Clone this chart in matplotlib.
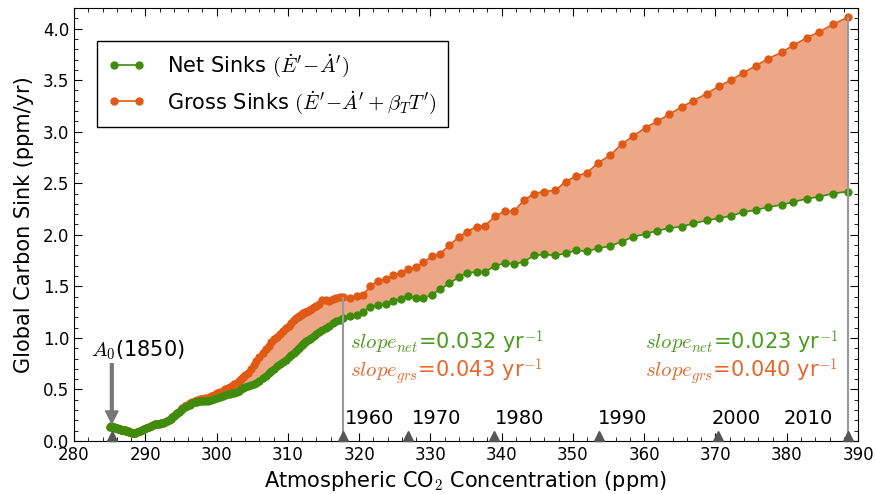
import numpy as np
import matplotlib
matplotlib.use('Agg')
import matplotlib.pyplot as plt
from matplotlib.ticker import MultipleLocator

plt.rcParams['mathtext.fontset'] = 'cm'
plt.rcParams['font.family'] = 'DejaVu Sans'

# CO2 concentration (ppm), one value per year 1850 -> 2010
co2 = [285.0, 285.15, 285.3, 285.45, 285.6, 285.75, 285.9, 286.05, 286.2, 286.35,
       286.5, 286.65, 286.8, 286.95, 287.1, 287.25, 287.4, 287.55, 287.7, 287.9,
       288.1, 288.35, 288.6, 288.9, 289.2, 289.5, 289.8, 290.15, 290.5, 290.8,
       291.1, 291.35, 291.6, 291.9, 292.2, 292.45, 292.7, 293.0, 293.3, 293.55,
       293.8, 294.05, 294.3, 294.5, 294.7, 294.95, 295.2, 295.55, 295.9, 296.25,
       296.6, 296.95, 297.3, 297.65, 298.0, 298.4, 298.8, 299.25, 299.7, 300.1,
       300.5, 300.85, 301.2, 301.55, 301.9, 302.2, 302.5, 302.8, 303.1, 303.4,
       303.7, 304.05, 304.4, 304.8, 305.2, 305.6, 306.0, 306.45, 306.9, 307.3,
       307.7, 308.1, 308.5, 308.9, 309.3, 309.7, 310.1, 310.45, 310.8, 311.1,
       311.4, 311.6, 311.8, 311.95, 312.1, 312.25, 312.4, 312.6, 312.8, 313.05,
       313.3, 313.65, 314.0, 314.4, 314.8, 315.3, 315.8, 316.3, 316.8, 317.3,
       317.79, 318.73, 319.67, 320.59, 321.53, 322.70, 323.78, 324.80, 325.84, 326.91,
       327.94, 329.01, 330.19, 331.35, 332.66, 334.02, 335.10, 336.50, 337.67, 339.07,
       340.47, 341.74, 343.14, 344.54, 345.95, 347.49, 348.96, 350.44, 351.94, 353.57,
       355.20, 356.85, 358.48, 360.19, 361.80, 363.53, 365.27, 366.89, 368.77, 370.50,
       372.14, 373.91, 375.65, 377.42, 379.30, 380.93, 382.80, 384.57, 386.45, 388.56]

# net sinks (ppm/yr)
net = [0.14, 0.142, 0.138, 0.136, 0.133, 0.13, 0.127, 0.124, 0.12, 0.117,
       0.113, 0.11, 0.107, 0.104, 0.102, 0.099, 0.096, 0.093, 0.09, 0.086,
       0.082, 0.08, 0.082, 0.088, 0.097, 0.106, 0.117, 0.128, 0.138, 0.147,
       0.153, 0.16, 0.165, 0.168, 0.171, 0.175, 0.181, 0.192, 0.207, 0.218,
       0.228, 0.243, 0.258, 0.27, 0.281, 0.296, 0.312, 0.327, 0.341, 0.353,
       0.364, 0.374, 0.381, 0.384, 0.386, 0.387, 0.39, 0.398, 0.408, 0.418,
       0.429, 0.437, 0.446, 0.452, 0.459, 0.464, 0.47, 0.48, 0.489, 0.5,
       0.511, 0.52, 0.531, 0.54, 0.551, 0.567, 0.584, 0.607, 0.631, 0.655,
       0.68, 0.702, 0.726, 0.747, 0.77, 0.79, 0.811, 0.831, 0.85, 0.871,
       0.889, 0.905, 0.92, 0.93, 0.941, 0.95, 0.96, 0.97, 0.981, 0.99,
       1.0, 1.021, 1.04, 1.06, 1.08, 1.1, 1.12, 1.14, 1.16, 1.175,
       1.19, 1.21, 1.22, 1.255, 1.30, 1.32, 1.33, 1.36, 1.376, 1.41,
       1.385, 1.385, 1.42, 1.47, 1.53, 1.59, 1.63, 1.64, 1.64, 1.70,
       1.725, 1.715, 1.74, 1.80, 1.81, 1.80, 1.82, 1.85, 1.84, 1.87,
       1.89, 1.935, 1.98, 2.01, 2.04, 2.065, 2.08, 2.11, 2.14, 2.16,
       2.185, 2.22, 2.24, 2.27, 2.29, 2.32, 2.35, 2.37, 2.40, 2.42]

# gross sinks (ppm/yr)
gross = [0.14, 0.142, 0.138, 0.136, 0.133, 0.13, 0.127, 0.124, 0.12, 0.117,
         0.113, 0.11, 0.107, 0.104, 0.102, 0.099, 0.096, 0.093, 0.09, 0.086,
         0.082, 0.08, 0.082, 0.088, 0.097, 0.106, 0.117, 0.128, 0.138, 0.147,
         0.153, 0.16, 0.165, 0.168, 0.171, 0.175, 0.181, 0.192, 0.207, 0.218,
         0.228, 0.243, 0.258, 0.27, 0.281, 0.3, 0.318, 0.336, 0.352, 0.364,
         0.376, 0.389, 0.401, 0.407, 0.411, 0.415, 0.421, 0.434, 0.449, 0.461,
         0.472, 0.486, 0.502, 0.511, 0.522, 0.536, 0.551, 0.565, 0.581, 0.6,
         0.62, 0.638, 0.66, 0.695, 0.74, 0.772, 0.81, 0.85, 0.89, 0.925,
         0.96, 0.985, 1.01, 1.04, 1.07, 1.095, 1.12, 1.145, 1.17, 1.19,
         1.2, 1.21, 1.22, 1.232, 1.24, 1.245, 1.25, 1.256, 1.26, 1.27,
         1.28, 1.295, 1.31, 1.325, 1.37, 1.372, 1.36, 1.375, 1.39, 1.395,
         1.40, 1.385, 1.41, 1.42, 1.50, 1.556, 1.573, 1.61, 1.634, 1.67,
         1.683, 1.735, 1.79, 1.816, 1.90, 1.98, 2.03, 2.08, 2.09, 2.18,
         2.23, 2.23, 2.335, 2.40, 2.42, 2.43, 2.515, 2.57, 2.60, 2.70,
         2.77, 2.88, 2.96, 3.04, 3.10, 3.17, 3.24, 3.30, 3.37, 3.44,
         3.50, 3.57, 3.64, 3.71, 3.77, 3.84, 3.91, 3.97, 4.04, 4.11]

# decade markers
years = ['1960', '1970', '1980', '1990', '2000', '2010']
year_co2 = [317.79, 326.91, 338.93, 353.66, 370.36, 388.56]
year_label_x = [318.0, 327.4, 339.1, 353.5, 369.4, 386.4]
start_co2 = 285.3

green = '#3f8c0c'
orange = '#e05a16'
fill_c = '#eda786'

fig = plt.figure(figsize=(8.76, 4.94), dpi=100)
ax = fig.add_axes([0.0845, 0.1073, 0.895, 0.8765])

ax.fill_between(co2, net, gross, color=fill_c, linewidth=0, zorder=1)
ax.plot(co2, net, '-o', color=green, lw=1.2, ms=5, mec=green, zorder=3,
        label=r'Net Sinks $(\dot{E}^{\prime}\!-\!\dot{A}^{\prime})$')
ax.plot(co2, gross, '-o', color=orange, lw=1.2, ms=5, mec=orange, zorder=2,
        label=r'Gross Sinks $(\dot{E}^{\prime}\!-\!\dot{A}^{\prime}+\beta_T T^{\prime})$')

# vertical lines at 1960 and 2010
i60 = co2.index(317.79)
ax.vlines([co2[i60], co2[-1]], 0, [gross[i60], gross[-1]], color='#999999', lw=1.5, zorder=4)

# triangles and year labels
ax.plot([start_co2] + year_co2, [0.045] * (len(year_co2) + 1), '^', color='#555555',
        ms=7, clip_on=False, zorder=5)
for lab, xl in zip(years, year_label_x):
    ha = 'right' if lab == '2010' else 'left'
    ax.text(xl, 0.22, lab, fontsize=14, ha=ha, va='center')

# A0 annotation
ax.annotate('', xy=(start_co2, 0.17), xytext=(start_co2, 0.75),
            arrowprops=dict(color='#777777', width=2, headwidth=9, headlength=9))
ax.text(282.4, 0.88, r'$A_0$(1850)', fontsize=15, ha='left', va='center')

# slope texts
ax.text(318.7, 0.95, r'$slope_{net}$=0.032 yr$^{-1}$', color='#4a9a1e', fontsize=15, va='center')
ax.text(318.7, 0.67, r'$slope_{grs}$=0.043 yr$^{-1}$', color='#e8662a', fontsize=15, va='center')
ax.text(387.2, 0.95, r'$slope_{net}$=0.023 yr$^{-1}$', color='#4a9a1e', fontsize=15, va='center', ha='right')
ax.text(387.2, 0.67, r'$slope_{grs}$=0.040 yr$^{-1}$', color='#e8662a', fontsize=15, va='center', ha='right')

ax.set_xlim(280, 390)
ax.set_ylim(0, 4.2)
ax.xaxis.set_major_locator(MultipleLocator(10))
ax.xaxis.set_minor_locator(MultipleLocator(2))
ax.yaxis.set_major_locator(MultipleLocator(0.5))
ax.yaxis.set_minor_locator(MultipleLocator(0.1))
ax.tick_params(which='both', direction='in', top=True, right=True, labelsize=12)
ax.tick_params(which='major', length=6)
ax.tick_params(which='minor', length=3)

ax.set_xlabel(r'Atmospheric CO$_2$ Concentration (ppm)', fontsize=15)
ax.set_ylabel('Global Carbon Sink (ppm/yr)', fontsize=15, labelpad=6)

leg = ax.legend(loc='upper left', bbox_to_anchor=(0.029, 0.924), fontsize=15,
                numpoints=2, fancybox=False, edgecolor='black', framealpha=1,
                borderaxespad=0, handlelength=1.8, handletextpad=1.0,
                borderpad=0.55, labelspacing=0.45)
leg.get_frame().set_linewidth(1.0)

plt.savefig('out.png', dpi=100)
